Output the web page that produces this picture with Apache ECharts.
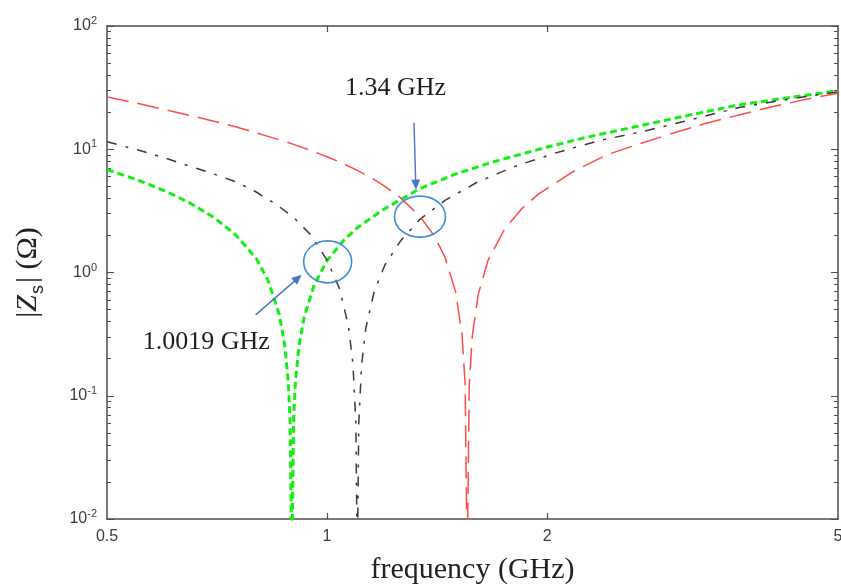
<!DOCTYPE html>
<html>
<head>
<meta charset="utf-8">
<script src="https://cdn.jsdelivr.net/npm/echarts@6/dist/echarts.min.js"></script>
<style>
  html, body { margin: 0; padding: 0; background: #fff; }
  #chart { width: 841px; height: 586px; }
</style>
</head>
<body>
<div id="chart"></div>
<script>
// Surface impedance magnitude |Zs| versus frequency for three resonators.

// Resonator A (green, short dashes)
const freqGreen = [0.5, 0.55, 0.6, 0.65, 0.7, 0.75, 0.8, 0.83, 0.86, 0.875, 0.885, 0.89, 0.895,
  0.9, 0.905, 0.915, 0.93, 0.96, 1.0, 1.05, 1.1, 1.2, 1.34, 1.5, 1.7, 1.95, 2.25, 2.65, 3.1,
  3.66, 4.2, 4.6, 5.0];
const zGreen = [6.85, 5.65, 4.6, 3.65, 2.8, 2.02, 1.3, 0.87, 0.46, 0.26, 0.13, 0.064, 0.004,
  0.064, 0.127, 0.25, 0.43, 0.79, 1.25, 1.78, 2.31, 3.3, 4.8, 6.3, 8.0, 10.0, 12.4, 15.3, 18.7,
  22.9, 25.8, 27.8, 29.9];

// Resonator B (black, dash-dot)
const freqBlack = [0.5, 0.55, 0.6, 0.65, 0.7, 0.75, 0.8, 0.85, 0.9, 0.95, 1.0, 1.04, 1.07, 1.085,
  1.095, 1.1, 1.105, 1.115, 1.13, 1.16, 1.2, 1.26, 1.34, 1.45, 1.6, 1.8, 2.05, 2.35, 2.7, 3.1,
  3.66, 4.2, 4.6, 5.0];
const zBlack = [11.5, 9.9, 8.5, 7.27, 6.3, 5.45, 4.5, 3.6, 2.8, 2.02, 1.26, 0.74, 0.365, 0.181,
  0.06, 0.004, 0.06, 0.179, 0.355, 0.70, 1.15, 1.8, 2.7, 3.85, 5.35, 7.2, 9.3, 11.7, 13.9, 17.0,
  21.8, 25.0, 27.2, 29.2];

// Resonator C (red, long dashes)
const freqRed = [0.5, 0.55, 0.6, 0.65, 0.7, 0.75, 0.8, 0.85, 0.9, 0.95, 1.0, 1.05, 1.1, 1.15, 1.2,
  1.26, 1.34, 1.4, 1.45, 1.5, 1.53, 1.545, 1.555, 1.565, 1.58, 1.61, 1.66, 1.75, 1.85, 1.95, 2.17,
  2.41, 2.67, 2.97, 3.3, 3.66, 4.06, 4.52, 5.0];
const zRed = [26.6, 23.6, 21.0, 18.8, 16.9, 15.2, 13.6, 12.2, 10.96, 9.79, 8.7, 7.69, 6.74, 5.85,
  5.0, 4.04, 2.85, 2.01, 1.33, 0.69, 0.31, 0.123, 0.004, 0.122, 0.304, 0.664, 1.25, 2.26, 3.33,
  4.36, 6.57, 8.98, 11.03, 13.47, 16.24, 18.96, 22.1, 25.4, 28.5];

// Axis ticks
const xTickLabels = [0.5, 1, 2, 5];
const xMajorTicks = [1, 2];
const yMajorTicks = [0.01, 0.1, 1, 10, 100];
const yMinorTicks = [];
[0.01, 0.1, 1, 10].forEach(d => { for (let k = 2; k <= 9; k++) yMinorTicks.push(+(d * k).toPrecision(3)); });

// Crossing points that are called out
const callouts = [
  { f: 1.0019, z: 1.22, text: '1.0019 GHz' },
  { f: 1.34, z: 2.84, text: '1.34 GHz' }
];

const pairs = (xs, ys) => xs.map((x, i) => [x, ys[i]]);

const axisColor = '#4d4d4d';
const lineAxis = { show: true, onZero: false, lineStyle: { color: axisColor, width: 1.5 } };

const chart = echarts.init(document.getElementById('chart'), null, { renderer: 'canvas' });

function xAxisDef(position, withLabels) {
  return {
    type: 'log', logBase: 10, min: 0.5, max: 5, position: position,
    axisLine: lineAxis,
    axisTick: { show: true, inside: true, length: 6, customValues: xMajorTicks,
      lineStyle: { color: axisColor, width: 1.2 } },
    axisLabel: withLabels ? {
      show: true, customValues: xTickLabels, margin: 10,
      color: '#3c3c3c', fontFamily: 'Liberation Sans', fontSize: 16,
      formatter: v => String(+(+v).toPrecision(3))
    } : { show: false },
    splitLine: { show: false }, minorTick: { show: false }
  };
}

function yAxisDef(position, ticks, len, withLabels, showLine) {
  return {
    type: 'log', logBase: 10, min: 0.01, max: 100, position: position,
    axisLine: showLine ? lineAxis : { show: false },
    axisTick: { show: true, inside: true, length: len, customValues: ticks,
      lineStyle: { color: axisColor, width: 1 } },
    axisLabel: withLabels ? {
      show: true, customValues: yMajorTicks, margin: 10,
      formatter: v => '{b|10}{s|' + Math.round(Math.log10(v)) + '}',
      rich: {
        b: { fontFamily: 'Liberation Sans', fontSize: 16, color: '#3c3c3c' },
        s: { fontFamily: 'Liberation Sans', fontSize: 11, color: '#3c3c3c', padding: [0, 0, 10, 0] }
      }
    } : { show: false },
    splitLine: { show: false }, minorTick: { show: false }
  };
}

const yMain = yAxisDef('left', yMajorTicks, 7, true, true);
yMain.name = '{p||}{z|Z}{s|s}{p|| (Ω)}';
yMain.nameLocation = 'middle';
yMain.nameGap = 60;
yMain.nameRotate = 90;
yMain.nameTextStyle = {
  rich: {
    p: { fontFamily: 'Liberation Serif', fontSize: 30, color: '#222' },
    z: { fontFamily: 'Liberation Serif', fontStyle: 'italic', fontSize: 30, color: '#222' },
    s: { fontFamily: 'Liberation Sans', fontSize: 18, color: '#222', padding: [20, 2, 0, 1] }
  }
};

const xMain = xAxisDef('bottom', true);
xMain.name = 'frequency (GHz)';
xMain.nameLocation = 'middle';
xMain.nameGap = 36;
xMain.nameTextStyle = { fontFamily: 'Liberation Serif', fontSize: 30, color: '#222' };

chart.setOption({
  animation: false,
  backgroundColor: '#ffffff',
  grid: { left: 107, right: 3, top: 26, bottom: 67, containLabel: false, outerBoundsMode: 'none' },
  xAxis: [xMain, xAxisDef('top', false)],
  yAxis: [
    yMain,
    yAxisDef('right', yMajorTicks, 7, false, true),
    yAxisDef('left', yMinorTicks, 4, false, false),
    yAxisDef('right', yMinorTicks, 4, false, false)
  ],
  series: [
    { name: 'A', type: 'line', xAxisIndex: 0, yAxisIndex: 0, data: pairs(freqGreen, zGreen),
      showSymbol: false, clip: true,
      lineStyle: { color: '#14ee14', width: 3, type: [7, 4] } },
    { name: 'B', type: 'line', xAxisIndex: 0, yAxisIndex: 0, data: pairs(freqBlack, zBlack),
      showSymbol: false, clip: true,
      lineStyle: { color: '#3a3a3a', width: 1.5, type: [10, 9, 3, 9] } },
    { name: 'C', type: 'line', xAxisIndex: 0, yAxisIndex: 0, data: pairs(freqRed, zRed),
      showSymbol: false, clip: true,
      lineStyle: { color: '#ff4a4a', width: 1.5, type: [22, 9] } }
  ]
});

// Callout ellipses, arrows and labels anchored on the crossing points
const circleColor = '#3b8ed8';
const arrowColor = '#4a74c6';
const calloutStyle = [
  { rx: 24, ry: 21, from: [-72, 53], to: [-26, 13], textAt: [-185, 80] },
  { rx: 25.5, ry: 20.5, from: [-6, -94], to: [-4, -27], textAt: [-75, -128] }
];

function arrowHead(x0, y0, x1, y1, len, half) {
  const dx = x1 - x0, dy = y1 - y0, d = Math.hypot(dx, dy);
  const ux = dx / d, uy = dy / d;
  const bx = x1 - ux * len, by = y1 - uy * len;
  return [[x1, y1], [bx - uy * half, by + ux * half], [bx + uy * half, by - ux * half]];
}

const elements = [];
callouts.forEach((c, i) => {
  const [cx, cy] = chart.convertToPixel({ xAxisIndex: 0, yAxisIndex: 0 }, [c.f, c.z]);
  const s = calloutStyle[i];
  elements.push({
    type: 'ellipse', shape: { cx: cx, cy: cy, rx: s.rx, ry: s.ry },
    style: { fill: 'none', stroke: circleColor, lineWidth: 1.6 }, z: 100
  });
  const x0 = cx + s.from[0], y0 = cy + s.from[1], x1 = cx + s.to[0], y1 = cy + s.to[1];
  const head = arrowHead(x0, y0, x1, y1, 10, 4.5);
  const ux = (x1 - x0) / Math.hypot(x1 - x0, y1 - y0), uy = (y1 - y0) / Math.hypot(x1 - x0, y1 - y0);
  elements.push({
    type: 'line', shape: { x1: x0, y1: y0, x2: x1 - ux * 8, y2: y1 - uy * 8 },
    style: { stroke: arrowColor, lineWidth: 1.4 }, z: 100
  });
  elements.push({
    type: 'polygon', shape: { points: head },
    style: { fill: arrowColor, stroke: null }, z: 100
  });
  elements.push({
    type: 'text', x: cx + s.textAt[0], y: cy + s.textAt[1],
    style: { text: c.text, fontFamily: 'Liberation Serif', fontSize: 26, fill: '#1e1e1e',
      textAlign: 'left', textVerticalAlign: 'middle' }, z: 100
  });
});
chart.setOption({ graphic: { elements: elements } });
</script>
</body>
</html>
